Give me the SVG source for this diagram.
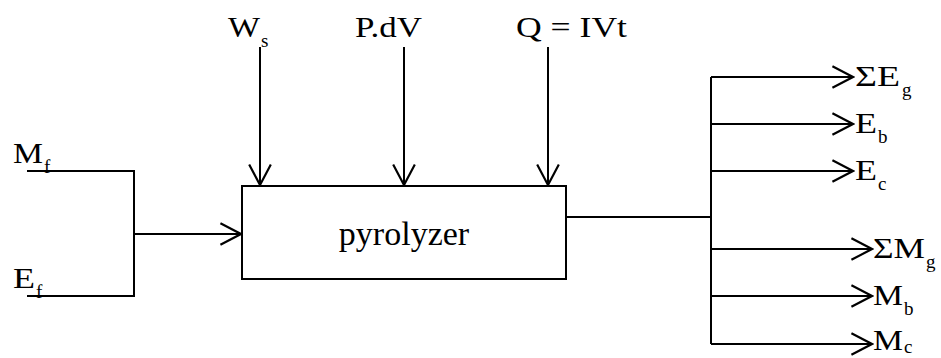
<svg xmlns="http://www.w3.org/2000/svg" width="941" height="358" viewBox="0 0 941 358" font-family="'Liberation Serif', 'Times New Roman', serif">
<style>
.ln{stroke:#000;stroke-width:2;fill:none}
.t{fill:#000}
.m{font-size:29px}
.s{font-size:19px}
</style>
<defs>
<marker id="ah" markerUnits="userSpaceOnUse" markerWidth="24" markerHeight="26" viewBox="-20 -12 22 24" refX="0" refY="0" orient="auto">
<path d="M-19,-10 L0,0 L-19,10" fill="none" stroke="#000" stroke-width="2"/>
</marker>
</defs>
<rect width="941" height="358" fill="#fff"/>
<g id="connectors">
<path class="ln" d="M27,171 H134 V296 H27"/>
<path class="ln" d="M134,234 H241" marker-end="url(#ah)"/>
<path class="ln" d="M260,47 V185" marker-end="url(#ah)"/>
<path class="ln" d="M404,47 V185" marker-end="url(#ah)"/>
<path class="ln" d="M548,47 V185" marker-end="url(#ah)"/>
<path class="ln" d="M566,217 H711"/>
<path class="ln" d="M711,77 V344"/>
<path class="ln" d="M711,77 H853" marker-end="url(#ah)"/>
<path class="ln" d="M711,124 H853" marker-end="url(#ah)"/>
<path class="ln" d="M711,171 H853" marker-end="url(#ah)"/>
<path class="ln" d="M711,249 H872" marker-end="url(#ah)"/>
<path class="ln" d="M711,296 H872" marker-end="url(#ah)"/>
<path class="ln" d="M711,344 H872" marker-end="url(#ah)"/>
</g>
<g id="pyrolyzer">
<rect class="ln" x="242" y="186" width="324" height="93"/>
<text class="t" x="404" y="245" font-size="34" text-anchor="middle">pyrolyzer</text>
</g>
<g id="Mf"><text class="t m" x="13" y="163" textLength="30" lengthAdjust="spacingAndGlyphs">M</text><text class="t s" x="44" y="173">f</text></g>
<g id="Ef"><text class="t m" x="13" y="288" textLength="22" lengthAdjust="spacingAndGlyphs">E</text><text class="t s" x="36" y="298">f</text></g>
<g id="Ws"><text class="t m" x="228" y="37" textLength="32" lengthAdjust="spacingAndGlyphs">W</text><text class="t s" x="261" y="47">s</text></g>
<g id="PdV"><text class="t m" x="355" y="37" textLength="67" lengthAdjust="spacingAndGlyphs">P.dV</text></g>
<g id="Q"><text class="t m" x="516" y="37" textLength="111" lengthAdjust="spacingAndGlyphs">Q = IVt</text></g>
<g id="SEg"><text class="t m" x="855" y="86" textLength="45" lengthAdjust="spacingAndGlyphs">ΣE</text><text class="t s" x="902" y="96">g</text></g>
<g id="Eb"><text class="t m" x="855" y="133" textLength="22" lengthAdjust="spacingAndGlyphs">E</text><text class="t s" x="878" y="143">b</text></g>
<g id="Ec"><text class="t m" x="855" y="180" textLength="22" lengthAdjust="spacingAndGlyphs">E</text><text class="t s" x="878" y="190">c</text></g>
<g id="SMg"><text class="t m" x="873" y="258" textLength="52" lengthAdjust="spacingAndGlyphs">ΣM</text><text class="t s" x="926" y="268">g</text></g>
<g id="Mb"><text class="t m" x="873" y="305" textLength="30" lengthAdjust="spacingAndGlyphs">M</text><text class="t s" x="904" y="315">b</text></g>
<g id="Mc"><text class="t m" x="873" y="350" textLength="30" lengthAdjust="spacingAndGlyphs">M</text><text class="t s" x="904" y="353">c</text></g>
</svg>
